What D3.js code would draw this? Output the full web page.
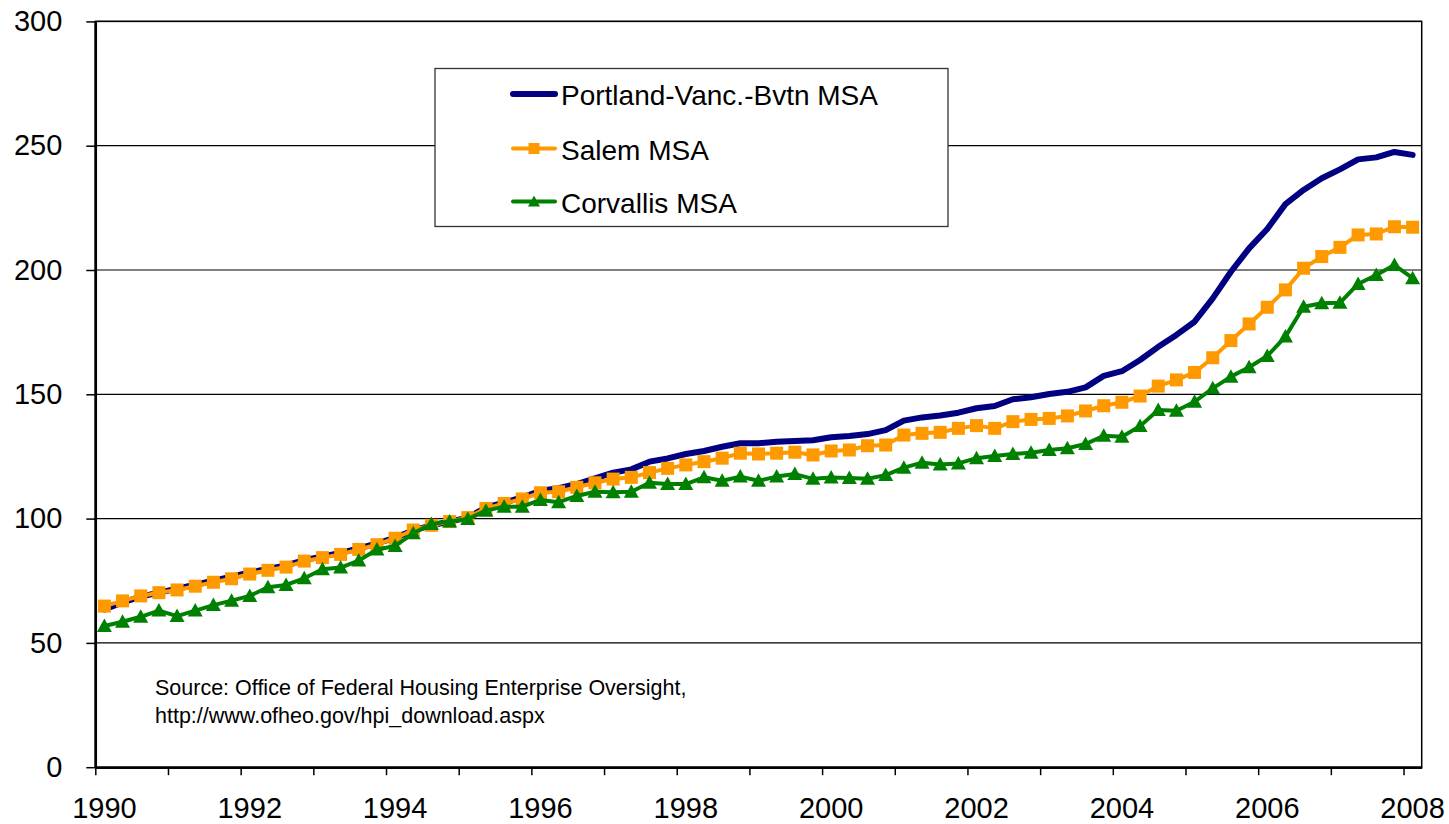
<!DOCTYPE html>
<html>
<head>
<meta charset="utf-8">
<script src="https://cdn.jsdelivr.net/npm/d3@7"></script>
<style>
  html, body { margin: 0; padding: 0; background: #fff; }
  svg { display: block; font-family: "Liberation Sans", Arial, sans-serif; }
</style>
</head>
<body>
<svg id="chart" width="1449" height="824"></svg>
<script>
// Quarterly index values, 1990Q1 .. 2008Q1 (1995Q1 = 100)
const portland = [
  63.5, 66.3, 68.6, 70.2, 71.8, 73.4, 75.0, 76.6, 78.3, 79.8, 81.2, 83.3, 84.8, 86.2, 88.0, 90.0, 92.3, 95.3, 97.3, 98.8,
  100.4, 104.5, 106.4, 108.6, 111.2, 112.2, 113.9, 116.2, 118.5, 119.8, 122.9, 124.2, 126.0, 127.2, 128.9, 130.3, 130.3, 130.9, 131.2, 131.5,
  132.7, 133.2, 134.0, 135.6, 139.4, 140.7, 141.5, 142.6, 144.4, 145.3, 148.0, 148.8, 150.1, 151.0, 152.8, 157.4, 159.3, 163.8,
  169.1, 173.9, 179.2, 188.6, 199.3, 208.7, 216.5, 226.5, 232.2, 236.9, 240.5, 244.5, 245.3, 247.5, 246.3
];
const salem = [
  64.8, 66.9, 68.9, 70.2, 71.3, 72.8, 74.4, 75.8, 77.7, 79.2, 80.5, 82.9, 84.3, 85.6, 87.6, 89.5, 92.1, 95.4, 97.3, 98.8,
  100.4, 104.1, 106.1, 107.9, 110.4, 110.8, 112.6, 114.4, 115.9, 116.6, 118.5, 120.2, 121.6, 122.9, 124.3, 126.3, 126.0, 126.3, 126.7, 125.6,
  127.2, 127.6, 129.3, 129.6, 133.6, 134.3, 134.7, 136.3, 137.4, 136.3, 139.0, 139.9, 140.3, 141.3, 143.3, 145.4, 146.8, 149.3,
  153.3, 155.8, 158.8, 164.7, 171.6, 178.3, 185.0, 192.0, 200.7, 205.4, 209.1, 214.1, 214.5, 217.4, 217.2
];
const corvallis = [
  56.8, 58.5, 60.5, 63.0, 60.8, 63.0, 65.2, 67.0, 68.9, 72.4, 73.3, 76.0, 79.6, 80.3, 83.1, 87.6, 89.0, 94.1, 97.8, 98.8,
  99.8, 103.2, 104.8, 104.8, 107.5, 106.6, 109.1, 110.8, 110.6, 110.8, 114.4, 113.9, 113.9, 116.6, 115.2, 116.9, 115.2, 116.9, 117.9, 116.0,
  116.5, 116.3, 116.0, 117.5, 120.5, 122.5, 121.8, 122.2, 124.3, 125.2, 126.0, 126.5, 127.6, 128.3, 130.0, 133.3, 132.9, 137.2,
  143.7, 143.4, 147.0, 152.4, 157.1, 160.9, 165.4, 173.2, 185.2, 186.6, 186.8, 194.4, 198.0, 202.0, 196.7
];
const yearLabels = ["1990", "1992", "1994", "1996", "1998", "2000", "2002", "2004", "2006", "2008"];
const yTicks = [0, 50, 100, 150, 200, 250, 300];
const seriesNames = ["Portland-Vanc.-Bvtn MSA", "Salem MSA", "Corvallis MSA"];
const sourceLines = ["Source: Office of Federal Housing Enterprise Oversight,", "http://www.ofheo.gov/hpi_download.aspx"];

const quarters = portland.map((d, i) => (1990 + Math.floor(i / 4)) + "Q" + (i % 4 + 1));

const L = 95.3, R = 1421.7, T = 21.4, B = 767.2;
const svg = d3.select("#chart");

const x = d3.scaleBand().domain(quarters).range([L, R]).paddingInner(0).paddingOuter(0);
const xYear = d3.scaleLinear().domain([1990, 2008.25]).range([L, R]);
const y = d3.scaleLinear().domain([0, 300]).range([B, T]);
const cx = q => x(q) + x.bandwidth() / 2;

// gridlines
svg.append("g")
  .selectAll("line")
  .data(yTicks.filter(v => v > 0))
  .join("line")
  .attr("x1", L).attr("x2", R)
  .attr("y1", d => y(d)).attr("y2", d => y(d))
  .attr("stroke", "#000").attr("stroke-width", 1.2);

// plot frame
svg.append("rect")
  .attr("x", L).attr("y", T).attr("width", R - L).attr("height", B - T)
  .attr("fill", "none").attr("stroke", "#000").attr("stroke-width", 1.5);

// y axis
const yAxis = svg.append("g")
  .attr("transform", `translate(${L},0)`)
  .call(d3.axisLeft(y).tickValues(yTicks).tickSize(9).tickPadding(24).tickSizeOuter(0));
yAxis.select(".domain").attr("stroke-width", 2.5);
yAxis.selectAll(".tick line").attr("stroke-width", 1.5);
yAxis.selectAll("text").attr("font-size", 29).attr("fill", "#000")
  .attr("font-family", "'Liberation Sans', Arial, sans-serif");

// x axis tick marks at year boundaries
const xTickAxis = svg.append("g")
  .attr("transform", `translate(0,${B})`)
  .call(d3.axisBottom(xYear).tickValues(d3.range(1990, 2009)).tickFormat("").tickSize(8).tickSizeOuter(0));
xTickAxis.select(".domain").attr("stroke-width", 2.5);
xTickAxis.selectAll(".tick line").attr("stroke-width", 1.5);

// x labels centred on each year's first quarter
const xLabelAxis = svg.append("g")
  .attr("transform", `translate(${x.bandwidth() / 2 - x.bandwidth() / 2},${B})`)
  .call(d3.axisBottom(x).tickValues(yearLabels.map(yr => yr + "Q1"))
    .tickFormat(q => q.slice(0, 4)).tickSize(0).tickPadding(30));
xLabelAxis.select(".domain").remove();
xLabelAxis.selectAll("text").attr("font-size", 29).attr("fill", "#000")
  .attr("font-family", "'Liberation Sans', Arial, sans-serif");

// series
const line = d3.line().x((d, i) => cx(quarters[i])).y(d => y(d));

svg.append("path").datum(portland)
  .attr("d", line).attr("fill", "none")
  .attr("stroke", "#000080").attr("stroke-width", 6).attr("stroke-linejoin", "round").attr("stroke-linecap", "round");

svg.append("path").datum(salem)
  .attr("d", line).attr("fill", "none")
  .attr("stroke", "#FF9900").attr("stroke-width", 4).attr("stroke-linejoin", "round");
svg.append("g").selectAll("rect").data(salem).join("rect")
  .attr("x", (d, i) => cx(quarters[i]) - 6.5).attr("y", d => y(d) - 6.5)
  .attr("width", 13).attr("height", 13).attr("fill", "#FF9900");

const tri = "M0,-7.5L7.5,6L-7.5,6Z";
svg.append("path").datum(corvallis)
  .attr("d", line).attr("fill", "none")
  .attr("stroke", "#008000").attr("stroke-width", 4).attr("stroke-linejoin", "round");
svg.append("g").selectAll("path").data(corvallis).join("path")
  .attr("d", tri)
  .attr("transform", (d, i) => `translate(${cx(quarters[i])},${y(d)})`)
  .attr("fill", "#008000");

// legend
const lg = svg.append("g");
lg.append("rect").attr("x", 435).attr("y", 68.5).attr("width", 513).attr("height", 158)
  .attr("fill", "#fff").attr("stroke", "#333").attr("stroke-width", 1.3);
const rowsY = [94, 148.5, 201.5];
const colors = ["#000080", "#FF9900", "#008000"];
rowsY.forEach((ry, k) => {
  lg.append("line").attr("x1", 513).attr("x2", 555).attr("y1", ry).attr("y2", ry)
    .attr("stroke", colors[k]).attr("stroke-width", k === 0 ? 6 : 4).attr("stroke-linecap", "round");
  if (k === 1) lg.append("rect").attr("x", 534 - 5.5).attr("y", ry - 5.5).attr("width", 11).attr("height", 11).attr("fill", colors[k]);
  if (k === 2) lg.append("path").attr("d", "M0,-6L6,5L-6,5Z").attr("transform", `translate(534,${ry})`).attr("fill", colors[k]);
  lg.append("text").attr("x", 561).attr("y", ry + 11).attr("font-size", 28).attr("fill", "#000").text(seriesNames[k]);
});

// source note
svg.append("g").selectAll("text").data(sourceLines).join("text")
  .attr("x", 155).attr("y", (d, i) => 695 + i * 28)
  .attr("font-size", 21.5).attr("fill", "#000").text(d => d);
</script>
</body>
</html>
